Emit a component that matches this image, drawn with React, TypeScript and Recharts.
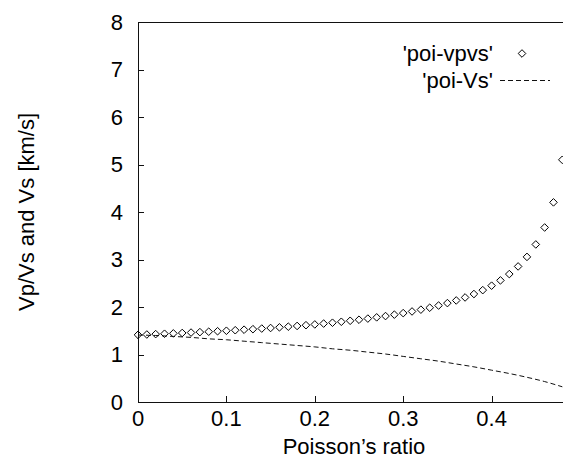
import { ComposedChart, Scatter, Line, XAxis, YAxis } from "recharts";

// Poisson's ratio sample points of the 'poi-vpvs' file
const poissonRatios = [
  0, 0.01, 0.02, 0.03, 0.04, 0.05, 0.06, 0.07, 0.08, 0.09,
  0.1, 0.11, 0.12, 0.13, 0.14, 0.15, 0.16, 0.17, 0.18, 0.19,
  0.2, 0.21, 0.22, 0.23, 0.24, 0.25, 0.26, 0.27, 0.28, 0.29,
  0.3, 0.31, 0.32, 0.33, 0.34, 0.35, 0.36, 0.37, 0.38, 0.39,
  0.4, 0.41, 0.42, 0.43, 0.44, 0.45, 0.46, 0.47, 0.48,
];

const vpvsValues = [
  1.414, 1.421, 1.429, 1.437, 1.445, 1.453, 1.462, 1.471, 1.48, 1.49,
  1.5, 1.511, 1.522, 1.533, 1.546, 1.558, 1.572, 1.586, 1.601, 1.617,
  1.633, 1.651, 1.669, 1.689, 1.71, 1.732, 1.756, 1.782, 1.809, 1.839,
  1.871, 1.906, 1.944, 1.985, 2.031, 2.082, 2.138, 2.201, 2.273, 2.355,
  2.449, 2.56, 2.693, 2.854, 3.055, 3.317, 3.674, 4.203, 5.099,
];

// 'poi-Vs' curve
const vsRatios = [
  0, 0.02, 0.04, 0.06, 0.08, 0.1, 0.12, 0.14, 0.16, 0.18, 0.2, 0.22,
  0.24, 0.26, 0.28, 0.3, 0.32, 0.34, 0.36, 0.38, 0.4, 0.42, 0.44, 0.46, 0.48,
];

const vsValues = [
  1.41, 1.4, 1.38, 1.36, 1.33, 1.31, 1.28, 1.25, 1.22, 1.19, 1.16, 1.12,
  1.09, 1.05, 1.01, 0.96, 0.91, 0.86, 0.8, 0.74, 0.67, 0.6, 0.52, 0.43, 0.32,
];

const xTicks = [0, 0.1, 0.2, 0.3, 0.4];
const yTicks = [0, 1, 2, 3, 4, 5, 6, 7, 8];

const FONT = "'Liberation Sans', Arial, Helvetica, sans-serif";
const FONT_SIZE = 22;
const TICK_LEN = 6;
const INK = "#111";

const vpvsData = poissonRatios.map((x, i) => ({ x, y: vpvsValues[i] }));
const vsData = vsRatios.map((x, i) => ({ x, y: vsValues[i] }));

const Diamond = (props: any) => {
  const { cx, cy } = props;
  const r = 3.8;
  return (
    <polygon
      points={`${cx},${cy - r} ${cx + r},${cy} ${cx},${cy + r} ${cx - r},${cy}`}
      fill="none"
      stroke="#000"
      strokeWidth={1}
    />
  );
};

// gnuplot style: ticks point into the plot
const LeftTick = (props: any) => {
  const { x, y, payload } = props;
  const ax = x + 15;
  return (
    <g>
      <rect x={ax} y={Math.round(y)} width={TICK_LEN} height={1} fill={INK} />
      <text
        x={x}
        y={y}
        textAnchor="end"
        dominantBaseline="central"
        fontSize={FONT_SIZE}
        fontFamily={FONT}
        fill="#000"
      >
        {payload.value}
      </text>
    </g>
  );
};

const BottomTick = (props: any) => {
  const { x, y, payload } = props;
  const ay = y - 16;
  return (
    <g>
      <rect x={Math.round(x)} y={ay - TICK_LEN} width={1} height={TICK_LEN} fill={INK} />
      <text
        x={x}
        y={y}
        textAnchor="middle"
        dominantBaseline="central"
        fontSize={FONT_SIZE}
        fontFamily={FONT}
        fill="#000"
      >
        {payload.value}
      </text>
    </g>
  );
};

const TopTick = (props: any) => {
  const { x, y } = props;
  return <rect x={Math.round(x)} y={y} width={1} height={TICK_LEN} fill={INK} />;
};

export default function App() {
  return (
    <div
      style={{
        position: "absolute",
        left: 0,
        top: 0,
        width: 563,
        height: 460,
        overflow: "hidden",
        background: "#fff",
        fontFamily: FONT,
      }}
    >
      {/* plot frame (left, top, bottom; the right side falls outside the crop) */}
      <div
        style={{
          position: "absolute",
          left: 138,
          top: 22,
          width: 460,
          height: 379,
          borderLeft: `1px solid ${INK}`,
          borderTop: `1px solid ${INK}`,
          borderBottom: `1px solid ${INK}`,
        }}
      />
      <ComposedChart
        width={580}
        height={460}
        margin={{ top: 22, right: 0, bottom: 0, left: 0 }}
      >
        <Line
          xAxisId="bottom"
          data={vsData}
          dataKey="y"
          type="monotone"
          stroke={INK}
          strokeWidth={1}
          strokeDasharray="5 3"
          dot={false}
          activeDot={false}
          isAnimationActive={false}
        />
        <Scatter
          xAxisId="bottom"
          data={vpvsData}
          dataKey="y"
          shape={<Diamond />}
          isAnimationActive={false}
        />
        <XAxis
          xAxisId="bottom"
          type="number"
          dataKey="x"
          domain={[0, 0.5]}
          ticks={xTicks}
          height={58}
          tickSize={0}
          tickMargin={16}
          tick={<BottomTick />}
          tickLine={false}
          axisLine={false}
          label={{
            content: () => (
              <text
                x={354}
                y={454}
                textAnchor="middle"
                fontSize={FONT_SIZE}
                fontFamily={FONT}
                fill="#000"
              >
                Poisson’s ratio
              </text>
            ),
          }}
        />
        <XAxis
          xAxisId="top"
          orientation="top"
          type="number"
          dataKey="x"
          domain={[0, 0.5]}
          ticks={xTicks}
          height={0}
          tickSize={0}
          tickMargin={0}
          tick={<TopTick />}
          tickLine={false}
          axisLine={false}
        />
        <YAxis
          type="number"
          domain={[0, 8]}
          ticks={yTicks}
          width={138}
          tickSize={0}
          tickMargin={15}
          tick={<LeftTick />}
          tickLine={false}
          axisLine={false}
          label={{
            content: () => (
              <text
                x={26}
                y={212}
                transform="rotate(-90 26 212)"
                textAnchor="middle"
                dominantBaseline="central"
                fontSize={FONT_SIZE}
                fontFamily={FONT}
                fill="#000"
              >
                Vp/Vs and Vs [km/s]
              </text>
            ),
          }}
        />
      </ComposedChart>

      {/* key, top right inside the frame */}
      <div
        style={{
          position: "absolute",
          left: 380,
          top: 40,
          fontSize: FONT_SIZE,
          color: "#000",
          lineHeight: "27px",
        }}
      >
        <div style={{ display: "flex", alignItems: "center", height: 27 }}>
          <span style={{ width: 113, textAlign: "right" }}>'poi-vpvs'</span>
          <svg width={64} height={27}>
            <polygon points="29,9.7 32.8,13.5 29,17.3 25.2,13.5" fill="none" stroke="#000" />
          </svg>
        </div>
        <div style={{ display: "flex", alignItems: "center", height: 27 }}>
          <span style={{ width: 113, textAlign: "right" }}>'poi-Vs'</span>
          <svg width={64} height={27}>
            <line x1={7} y1={13.5} x2={57} y2={13.5} stroke={INK} strokeDasharray="5 3" />
          </svg>
        </div>
      </div>
    </div>
  );
}
